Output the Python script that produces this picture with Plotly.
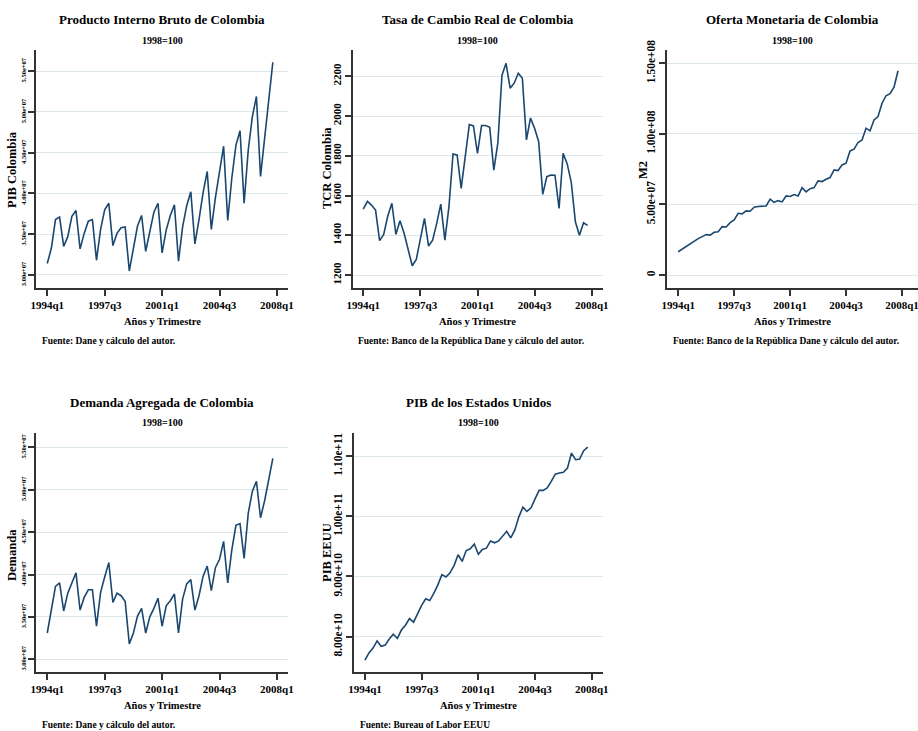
import plotly.graph_objects as go

W, H = 918, 731

# ---------------- data (quarterly, 1994q1 .. 2007q4) ----------------
quarter_index = list(range(56))
x_tick_vals = [0, 14, 28, 42, 56]
x_tick_text = ["1994q1", "1997q3", "2001q1", "2004q3", "2008q1"]

# PIB Colombia (units of 1e7)
pib_colombia = [3.14, 3.33, 3.68, 3.71, 3.35, 3.47, 3.72, 3.79, 3.32, 3.51,
                3.66, 3.68, 3.18, 3.56, 3.80, 3.88, 3.36, 3.51, 3.58, 3.59,
                3.05, 3.31, 3.60, 3.73, 3.29, 3.53, 3.77, 3.88, 3.27, 3.55,
                3.73, 3.86, 3.17, 3.59, 3.85, 4.02, 3.38, 3.68, 4.01, 4.27,
                3.56, 3.95, 4.24, 4.58, 3.67, 4.19, 4.59, 4.77, 3.88, 4.53,
                4.94, 5.19, 4.21, 4.66, 5.16, 5.61]

# Tasa de cambio real
tcr_colombia = [1532, 1571, 1552, 1527, 1373, 1405, 1497, 1561, 1405, 1473,
                1410, 1334, 1247, 1279, 1376, 1485, 1346, 1376, 1460, 1557,
                1376, 1544, 1809, 1804, 1636, 1812, 1957, 1950, 1812, 1952,
                1952, 1943, 1728, 1866, 2205, 2265, 2140, 2165, 2215, 2190,
                1880, 1990, 1938, 1871, 1606, 1695, 1703, 1702, 1535, 1812,
                1759, 1665, 1468, 1400, 1463, 1450]

# M2 (units of 1e7)
m2_colombia = [1.65, 1.84, 2.00, 2.25, 2.43, 2.58, 2.72, 2.86, 2.83, 3.03,
               3.07, 3.43, 3.40, 3.71, 3.90, 4.37, 4.33, 4.54, 4.52, 4.80,
               4.85, 4.89, 4.89, 5.37, 5.15, 5.27, 5.18, 5.60, 5.56, 5.70,
               5.60, 6.19, 5.89, 6.12, 6.19, 6.67, 6.62, 6.78, 6.90, 7.45,
               7.40, 7.80, 7.92, 8.79, 8.91, 9.39, 9.57, 10.40, 10.21, 10.99,
               11.23, 12.17, 12.70, 12.84, 13.31, 14.47]

# Demanda agregada (units of 1e7)
demanda_colombia = [3.31, 3.61, 3.86, 3.90, 3.57, 3.78, 3.90, 4.02, 3.58, 3.73,
                    3.82, 3.82, 3.39, 3.79, 3.97, 4.14, 3.67, 3.78, 3.75, 3.68,
                    3.18, 3.31, 3.51, 3.60, 3.31, 3.50, 3.60, 3.72, 3.39, 3.63,
                    3.69, 3.77, 3.31, 3.71, 3.89, 3.94, 3.58, 3.75, 3.98, 4.10,
                    3.81, 4.08, 4.18, 4.39, 3.90, 4.29, 4.58, 4.60, 4.19, 4.72,
                    4.98, 5.10, 4.67, 4.87, 5.12, 5.37]

# PIB EEUU (units of 1e10)
pib_eeuu = [7.61, 7.73, 7.81, 7.93, 7.84, 7.86, 7.96, 8.04, 7.97, 8.11,
            8.19, 8.30, 8.24, 8.39, 8.52, 8.63, 8.60, 8.72, 8.86, 9.03,
            8.99, 9.06, 9.18, 9.36, 9.25, 9.43, 9.46, 9.54, 9.37, 9.45,
            9.47, 9.59, 9.56, 9.59, 9.67, 9.75, 9.64, 9.77, 9.99, 10.15,
            10.08, 10.14, 10.29, 10.43, 10.43, 10.47, 10.58, 10.70, 10.72, 10.73,
            10.80, 11.05, 10.94, 10.95, 11.09, 11.15]

e7_ticks = [3.0e7, 3.5e7, 4.0e7, 4.5e7, 5.0e7, 5.5e7]
e7_text = ["3.00e+07", "3.50e+07", "4.00e+07", "4.50e+07", "5.00e+07", "5.50e+07"]
tcr_ticks = [1200, 1400, 1600, 1800, 2000, 2200]
tcr_text = ["1200", "1400", "1600", "1800", "2000", "2200"]
m2_ticks = [0, 5e7, 1e8, 1.5e8]
m2_text = ["0", "5.00e+07", "1.00e+08", "1.50e+08"]
us_ticks = [8e10, 9e10, 1e11, 1.1e11]
us_text = ["8.00e+10", "9.00e+10", "1.00e+11", "1.10e+11"]

panels = [
    dict(title="Producto Interno Bruto de Colombia", ytitle="PIB Colombia",
         y=[v * 1e7 for v in pib_colombia], xpx=(36, 288), ypx=(50, 288),
         yrange=(2.84e7, 5.76e7), xrange=(-2.75, 58.7),
         tv=e7_ticks, tt=e7_text, tfs=6.5, ytx=12, yty=170,
         note="Fuente: Dane y cálculo del autor.", notex=40),
    dict(title="Tasa de Cambio Real de Colombia", ytitle="TCR Colombia",
         y=tcr_colombia, xpx=(352.7, 602.7), ypx=(50, 288),
         yrange=(1135, 2332), xrange=(-2.6, 58.7),
         tv=tcr_ticks, tt=tcr_text, tfs=11, ytx=327, yty=168,
         note="Fuente: Banco de la República Dane y cálculo del autor.", notex=356),
    dict(title="Oferta Monetaria de Colombia", ytitle="M2",
         y=[v * 1e7 for v in m2_colombia], xpx=(667, 918), ypx=(50, 288),
         yrange=(-9.2e6, 1.594e8), xrange=(-2.8, 60.0),
         tv=m2_ticks, tt=m2_text, tfs=11.5, ytx=643, yty=170,
         note="Fuente: Banco de la República Dane y cálculo del autor.", notex=671),
    dict(title="Demanda Agregada de Colombia", ytitle="Demanda",
         y=[v * 1e7 for v in demanda_colombia], xpx=(36, 288), ypx=(433, 672),
         yrange=(2.85e7, 5.669e7), xrange=(-2.75, 58.7),
         tv=e7_ticks, tt=e7_text, tfs=6.5, ytx=12, yty=555,
         note="Fuente: Dane y cálculo del autor.", notex=40),
    dict(title="PIB de los Estados Unidos", ytitle="PIB EEUU",
         y=[v * 1e10 for v in pib_eeuu], xpx=(354, 602.7), ypx=(433, 672),
         yrange=(7.413e10, 1.1383e11), xrange=(-2.7, 58.7),
         tv=us_ticks, tt=us_text, tfs=11.5, ytx=327, yty=553,
         note="Fuente: Bureau of Labor EEUU", notex=358),
]

FONT = "Liberation Serif"
LINE = "#1a476f"
GRID = "#dde8ea"
AXIS = "#333333"

fig = go.Figure()
annotations = []
layout = {}

for i, p in enumerate(panels):
    n = "" if i == 0 else str(i + 1)
    xa, ya = "x" + n, "y" + n
    fig.add_trace(go.Scatter(x=quarter_index, y=p["y"], mode="lines",
                             line=dict(color=LINE, width=1.6),
                             xaxis=xa, yaxis=ya, showlegend=False,
                             hoverinfo="skip"))
    x0, x1 = p["xpx"][0] / W, min(p["xpx"][1] / W, 1.0)
    y0, y1 = 1 - p["ypx"][1] / H, 1 - p["ypx"][0] / H
    layout["xaxis" + n] = dict(
        domain=[x0, x1], range=list(p["xrange"]), anchor=ya, automargin=False,
        tickvals=x_tick_vals, ticktext=x_tick_text, ticklabeloverflow="allow",
        showgrid=False, zeroline=False, showline=True, linecolor=AXIS, linewidth=1.5,
        ticks="outside", ticklen=6, tickwidth=1.5, tickcolor=AXIS,
        tickfont=dict(family=FONT, size=11, color="black", weight="bold"),
        fixedrange=True)
    layout["yaxis" + n] = dict(
        domain=[y0, y1], range=list(p["yrange"]), anchor=xa, automargin=False,
        tickvals=p["tv"], ticktext=p["tt"], tickangle=-90, ticklabeloverflow="allow",
        showgrid=True, gridcolor=GRID, gridwidth=1.2, zeroline=False,
        showline=True, linecolor=AXIS, linewidth=1.5,
        ticks="outside", ticklen=6, tickwidth=1.5, tickcolor=AXIS,
        tickfont=dict(family=FONT, size=p["tfs"], color="black", weight="bold"),
        fixedrange=True)
    cx = (p["xpx"][0] + min(p["xpx"][1], 918)) / 2 / W
    top = p["ypx"][0]
    bot = p["ypx"][1]
    annotations += [
        dict(text="<b>" + p["title"] + "</b>", x=cx, y=1 - (top - 31) / H,
             xref="paper", yref="paper", showarrow=False, xanchor="center",
             yanchor="middle", font=dict(family=FONT, size=13, color="black")),
        dict(text="<b>1998=100</b>", x=cx, y=1 - (top - 10) / H,
             xref="paper", yref="paper", showarrow=False, xanchor="center",
             yanchor="middle", font=dict(family=FONT, size=10, color="black")),
        dict(text="<b>Años y Trimestre</b>", x=cx, y=1 - (bot + 33) / H,
             xref="paper", yref="paper", showarrow=False, xanchor="center",
             yanchor="middle", font=dict(family=FONT, size=10.5, color="black")),
        dict(text="<b>" + p["note"] + "</b>", x=p["notex"] / W, y=1 - (bot + 53) / H,
             xref="paper", yref="paper", showarrow=False, xanchor="left",
             yanchor="middle", font=dict(family=FONT, size=9.5, color="black")),
        dict(text="<b>" + p["ytitle"] + "</b>", x=p["ytx"] / W,
             y=1 - p["yty"] / H, textangle=-90,
             xref="paper", yref="paper", showarrow=False, xanchor="center",
             yanchor="middle", font=dict(family=FONT, size=12.5, color="black")),
    ]

fig.update_layout(
    width=W, height=H, margin=dict(l=0, r=0, t=0, b=0, autoexpand=False),
    paper_bgcolor="white", plot_bgcolor="white", showlegend=False,
    annotations=annotations, **layout)

fig.write_html("out.html")
